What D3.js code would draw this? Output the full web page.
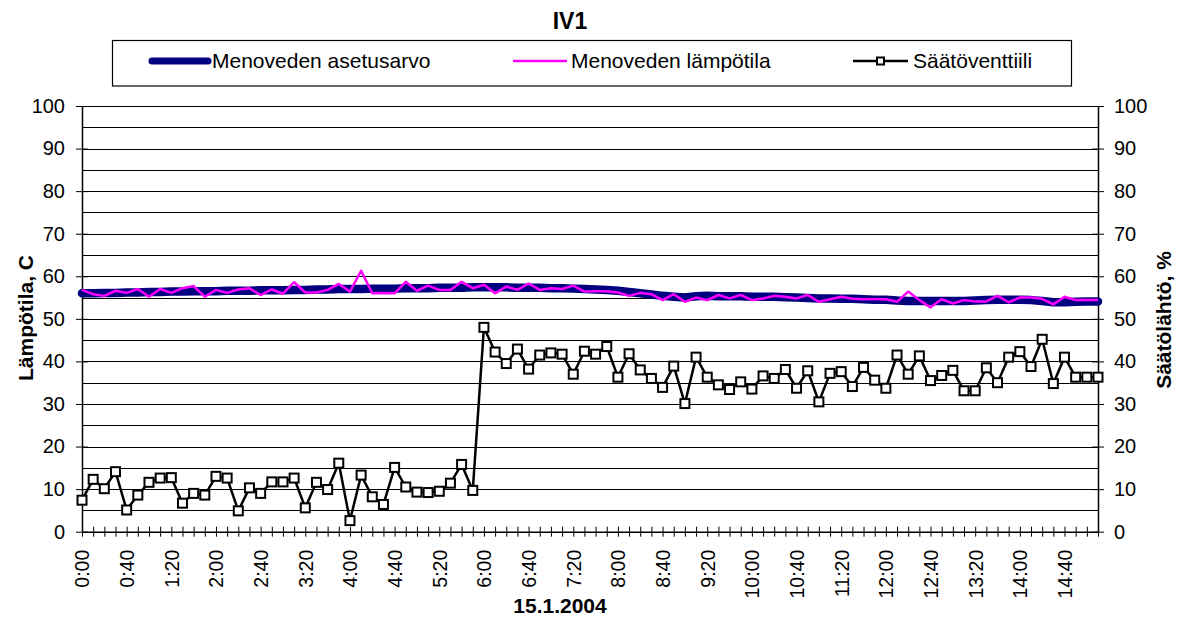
<!DOCTYPE html>
<html><head><meta charset="utf-8">
<script src="https://cdn.jsdelivr.net/npm/d3@7"></script>
<style>
body{margin:0;background:#fff;}
text{font-family:"Liberation Sans",Arial,sans-serif;fill:#000;}
</style></head>
<body>
<svg id="c" width="1185" height="618"></svg>
<script>
const times = ["0:00","0:10","0:20","0:30","0:40","0:50","1:00","1:10","1:20","1:30","1:40","1:50",
"2:00","2:10","2:20","2:30","2:40","2:50","3:00","3:10","3:20","3:30","3:40","3:50",
"4:00","4:10","4:20","4:30","4:40","4:50","5:00","5:10","5:20","5:30","5:40","5:50",
"6:00","6:10","6:20","6:30","6:40","6:50","7:00","7:10","7:20","7:30","7:40","7:50",
"8:00","8:10","8:20","8:30","8:40","8:50","9:00","9:10","9:20","9:30","9:40","9:50",
"10:00","10:10","10:20","10:30","10:40","10:50","11:00","11:10","11:20","11:30","11:40","11:50",
"12:00","12:10","12:20","12:30","12:40","12:50","13:00","13:10","13:20","13:30","13:40","13:50",
"14:00","14:10","14:20","14:30","14:40","14:50","15:00","15:10"];

const setpoint = [56.0,56.0,56.1,56.1,56.2,56.2,56.3,56.3,56.4,56.4,
56.5,56.5,56.5,56.6,56.6,56.6,56.7,56.7,56.7,56.8,
56.8,56.9,56.9,57.0,57.0,57.0,57.1,57.1,57.1,57.2,
57.2,57.2,57.3,57.3,57.3,57.4,57.4,57.4,57.4,57.3,
57.3,57.3,57.2,57.2,57.1,57.0,56.9,56.8,56.6,56.3,
56.0,55.7,55.4,55.2,55.0,55.3,55.4,55.3,55.3,55.3,
55.2,55.2,55.2,55.1,55.0,54.9,54.8,54.8,54.7,54.7,
54.6,54.5,54.5,54.3,54.2,54.2,54.2,54.2,54.2,54.2,
54.3,54.4,54.5,54.5,54.5,54.4,54.2,53.9,53.9,54.0,
54.1,54.1];

const temperature = [56.8,55.8,55.4,56.6,56.1,57.0,55.2,57.0,56.1,57.2,
57.7,55.2,56.8,56.1,56.9,57.2,55.6,56.9,55.9,58.6,
56.2,56.2,56.8,58.2,56.4,61.3,56.0,56.1,56.0,58.7,
56.6,57.8,56.8,56.8,58.7,57.2,58.0,56.0,57.6,56.8,
58.3,56.8,57.2,57.0,57.8,56.4,56.5,56.5,56.2,55.4,
56.1,55.8,54.4,55.8,54.0,55.0,54.4,55.6,54.8,55.6,
54.4,54.8,55.4,55.2,54.8,55.6,54.0,54.6,55.2,54.7,
54.6,54.6,54.6,54.0,56.4,54.4,52.7,54.6,53.6,54.4,
54.1,54.1,55.4,53.9,55.0,55.0,54.7,53.4,55.2,54.4,
54.4,54.4];

const valve = [7.4,12.3,10.1,14.1,5.1,8.6,11.6,12.6,12.7,6.7,
9.0,8.6,13.0,12.6,4.9,10.3,9.0,11.7,11.7,12.6,
5.6,11.6,9.9,16.1,2.6,13.3,8.2,6.4,15.1,10.5,
9.3,9.2,9.5,11.4,15.8,9.7,48.0,42.2,39.5,42.9,
38.2,41.5,42.0,41.7,37.0,42.4,41.7,43.5,36.3,41.8,
38.0,36.0,33.9,38.9,30.1,41.0,36.3,34.5,33.4,35.2,
33.5,36.6,36.0,38.1,33.7,37.8,30.5,37.2,37.6,34.1,
38.6,35.6,33.7,41.5,37.0,41.3,35.5,36.7,37.9,33.1,
33.1,38.5,35.0,41.0,42.3,38.8,45.2,34.8,41.0,36.3,
36.3,36.3];

const yTicks = [0,10,20,30,40,50,60,70,80,90,100];
const gridVals = [5,10,15,20,25,30,35,40,45,50,55,60,65,70,75,80,85,90,95,100];
const seriesNames = ["Menoveden asetusarvo","Menoveden lämpötila","Säätöventtiili"];

const svg = d3.select("#c");
const L = 82, R = 1098, T = 106, B = 531.7;
const x = d3.scalePoint().domain(times).range([L, R]);
const yL = d3.scaleLinear().domain([0,100]).range([B, T]);
const yR = d3.scaleLinear().domain([0,100]).range([B, T]);

// gridlines
svg.append("g").selectAll("line").data(gridVals).join("line")
  .attr("x1", L).attr("x2", R)
  .attr("y1", d => Math.round(yL(d))+0.5).attr("y2", d => Math.round(yL(d))+0.5)
  .attr("stroke", "#000").attr("stroke-width", 1);

// left axis
const gl = svg.append("g").attr("transform", `translate(${L},0)`)
  .call(d3.axisLeft(yL).tickValues(yTicks).tickSize(6).tickSizeOuter(0).tickPadding(11));
gl.select(".domain").attr("stroke","#000").attr("stroke-width",1.5);
gl.selectAll(".tick line").attr("x2", 6).attr("x1",-6).attr("stroke","#000");
gl.selectAll(".tick text").style("font-size","20px").style("font-family","Liberation Sans, Arial");

// right axis
const gr = svg.append("g").attr("transform", `translate(${R},0)`)
  .call(d3.axisRight(yR).tickValues(yTicks).tickSize(6).tickSizeOuter(0).tickPadding(10));
gr.select(".domain").attr("stroke","#000").attr("stroke-width",1.5);
gr.selectAll(".tick line").attr("x1", -6).attr("x2",6).attr("stroke","#000");
gr.selectAll(".tick text").style("font-size","20px").style("font-family","Liberation Sans, Arial");

// bottom axis
const gb = svg.append("g").attr("transform", `translate(0,${B})`)
  .call(d3.axisBottom(x).tickValues(times).tickSize(5).tickSizeOuter(0)
     .tickFormat((d,i) => i % 4 === 0 ? d : ""));
gb.select(".domain").attr("stroke","#000").attr("stroke-width",1.5);
gb.selectAll(".tick line").attr("y1",-5).attr("y2",5).attr("stroke","#000");
gb.selectAll(".tick text")
  .style("font-size","19.5px").style("font-family","Liberation Sans, Arial")
  .attr("text-anchor","end").attr("transform","rotate(-90)")
  .attr("x",-18).attr("y",0).attr("dy","0.35em");

// lines
const lineL = (arr) => d3.line().x((d,i)=>x(times[i])).y(d=>yL(d))(arr);
svg.append("path").attr("d", lineL(setpoint)).attr("fill","none")
  .attr("stroke","#000080").attr("stroke-width",8.5).attr("stroke-linejoin","round").attr("stroke-linecap","round");
svg.append("path").attr("d", lineL(temperature)).attr("fill","none")
  .attr("stroke","#FF00FF").attr("stroke-width",2.5).attr("stroke-linejoin","round");
svg.append("path").attr("d", d3.line().x((d,i)=>x(times[i])).y(d=>yR(d))(valve)).attr("fill","none")
  .attr("stroke","#000").attr("stroke-width",2.5).attr("stroke-linejoin","round");
svg.append("g").selectAll("rect").data(valve).join("rect")
  .attr("x",(d,i)=>x(times[i])-4.5).attr("y",d=>yR(d)-4.5)
  .attr("width",9).attr("height",9)
  .attr("fill","#fff").attr("stroke","#000").attr("stroke-width",2);

// title
svg.append("text").attr("x",570).attr("y",29).attr("text-anchor","middle")
  .style("font-size","23px").style("font-weight","bold").text("IV1");

// axis titles
svg.append("text").attr("transform","translate(33,318) rotate(-90)").attr("text-anchor","middle")
  .style("font-size","21px").style("font-weight","bold").text("Lämpötila, C");
svg.append("text").attr("transform","translate(1171,320) rotate(-90)").attr("text-anchor","middle")
  .style("font-size","21px").style("font-weight","bold").text("Säätölähtö, %");
svg.append("text").attr("x",560).attr("y",613).attr("text-anchor","middle")
  .style("font-size","21px").style("font-weight","bold").text("15.1.2004");

// legend
const lg = svg.append("g");
lg.append("rect").attr("x",112.5).attr("y",40.5).attr("width",959).attr("height",45.5)
  .attr("fill","#fff").attr("stroke","#000").attr("stroke-width",1.2);
const legX = [150, 513, 853];
const legY = 61;
lg.append("line").attr("x1",legX[0]+2).attr("x2",legX[0]+58).attr("y1",legY).attr("y2",legY)
  .attr("stroke","#000080").attr("stroke-width",7).attr("stroke-linecap","round");
lg.append("line").attr("x1",legX[1]).attr("x2",legX[1]+54).attr("y1",legY).attr("y2",legY)
  .attr("stroke","#FF00FF").attr("stroke-width",2.5);
lg.append("line").attr("x1",legX[2]).attr("x2",legX[2]+55).attr("y1",legY).attr("y2",legY)
  .attr("stroke","#000").attr("stroke-width",2.5);
lg.append("rect").attr("x",legX[2]+24).attr("y",legY-3.5).attr("width",7).attr("height",7)
  .attr("fill","#fff").attr("stroke","#000").attr("stroke-width",2);
const legTextX = [212, 571, 913];
seriesNames.forEach((n,i) => {
  lg.append("text").attr("x",legTextX[i]).attr("y",legY).attr("dy","0.35em")
    .style("font-size","21px").text(n);
});
</script>
</body></html>
